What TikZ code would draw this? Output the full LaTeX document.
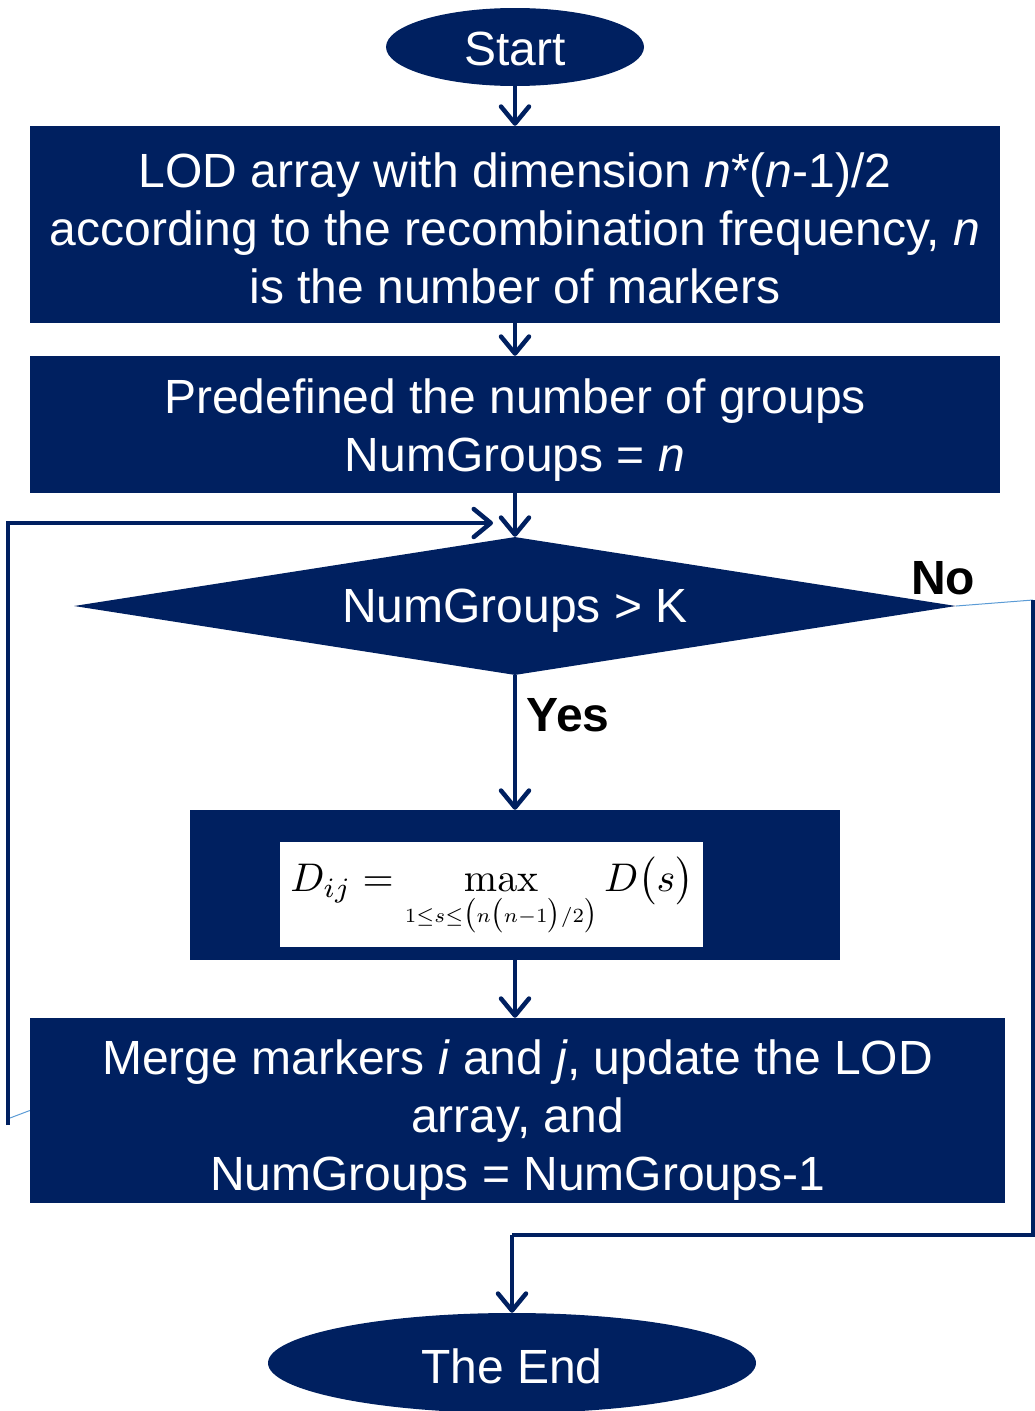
\documentclass[tikz,border=0pt]{standalone}
\usepackage[no-math]{fontspec}
\setmainfont{Liberation Sans}
\usepackage{graphicx}
\usetikzlibrary{shapes.geometric,arrows.meta}
\definecolor{navy}{HTML}{002060}
\definecolor{thinblue}{HTML}{5B9BD5}
\begin{document}
\begin{tikzpicture}[x=1pt,y=-1pt,
  every node/.style={font=\fontsize{48}{58}\selectfont, text=white, inner sep=0pt},
  blk/.style={draw=none, fill=navy, rectangle, align=center},
  oval/.style={draw=none, fill=navy, ellipse},
  txt/.style={align=center, text=white},
  conn/.style={draw=navy, line width=4.5pt, -{Straight Barb[length=17pt,width=28pt,line cap=round,line join=round]}},
  plain/.style={draw=navy, line width=4.5pt},
  thinl/.style={draw=thinblue, line width=1pt},
  lbl/.style={text=black, font=\fontsize{48}{58}\selectfont\bfseries}
]
\useasboundingbox (0,0) rectangle (1035,1411);
\clip (0,0) rectangle (1035,1411);

\node[oval, minimum width=258pt, minimum height=78pt] (start) at (515,47) {};
\node[txt] (startt) at (515,49) {Start};
\node[blk, minimum width=970pt, minimum height=197pt] (box1) at (515,224.5) {};
\node[txt] (box1t) at (515,228)
  {LOD array with dimension \textit{n}*(\textit{n}-1)/2\\
   according to the recombination frequency, \textit{n}\\
   is the number of markers};
\node[blk, minimum width=970pt, minimum height=137pt] (box2) at (515,424.5) {};
\node[txt] (box2t) at (515,430)
  {Predefined the number of groups\\ NumGroups = \textit{n}};
\node[diamond, fill=navy, aspect=6.4, minimum width=882pt, minimum height=138pt] (dia) at (515,606) {};
\node[txt] (diat) at (515,611) {NumGroups > K};
\node[blk, minimum width=650pt, minimum height=150pt] (box3) at (515,885) {};
\node[fill=white, minimum width=423pt, minimum height=105pt, text=black] (formula) at (491.5,894.5) {};
\node[text=black, font=\fontsize{10}{12}\selectfont] (formulat) at (492,897)
  {\scalebox{4.0}{$\displaystyle D_{ij}=\max_{\scalebox{0.72}{$\scriptstyle 1\le s\le\bigl(n\bigl(n-1\bigr)/2\bigr)$}} D\bigl(s\bigr)$}};
\node[blk, minimum width=975pt, minimum height=185pt] (box4) at (517.5,1110.5) {};
\node[txt] (box4t) at (517.5,1120)
  {Merge markers \textit{i} and \textit{j}, update the LOD\\ array, and\\ NumGroups = NumGroups-1};
\node[oval, minimum width=488pt, minimum height=100pt] (theend) at (512,1363) {};
\node[txt] (theendt) at (512,1366) {The End};

\node[lbl] (yes) at (568,715) {Yes};
\node[lbl] (no) at (943,578) {No};

\coordinate (la) at (10,1118);
\coordinate (lb) at (8,1125);
\coordinate (le) at (493,523);
\coordinate (nr) at (1033,600);
\coordinate (nj) at (512,1235);

\draw[conn] (start) -- (box1);
\draw[conn] (box1) -- (box2);
\draw[conn] (box2) -- (dia);
\draw[conn] (dia) -- (box3);
\draw[conn] (box3.south) -- (box3.south |- box4.north);
\draw[thinl] (box4.west) -- (la);
\draw[conn] (lb) |- (le);
\draw[thinl] (dia.east) -- (nr);
\draw[plain] (nr) |- (nj);
\draw[conn] (nj) -- (theend.north);
\end{tikzpicture}
\end{document}
